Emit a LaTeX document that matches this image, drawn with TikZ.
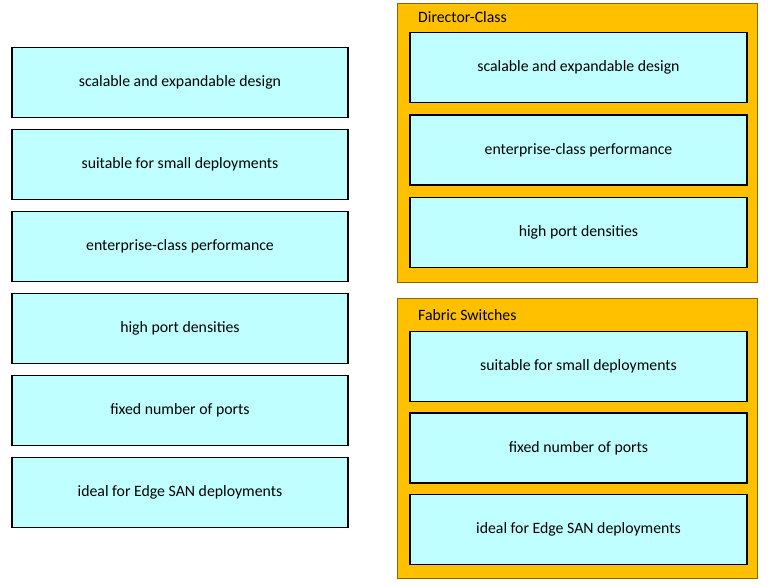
\documentclass[tikz,border=0pt]{standalone}
\usepackage{fontspec}
\setmainfont{Carlito}
\usetikzlibrary{positioning}
\definecolor{boxcyan}{RGB}{192,255,255}
\definecolor{panelorange}{RGB}{255,192,0}
\definecolor{paneledge}{RGB}{140,100,0}
\tikzstyle{answerbox}=[rectangle,draw=black,line width=1.2pt,fill=boxcyan,
minimum width=336pt,minimum height=70pt,inner sep=0pt,
font=\fontsize{15.8}{18}\selectfont]
\tikzstyle{panelbox}=[rectangle,draw=paneledge,line width=1pt,
fill=panelorange,anchor=north west,minimum width=360pt]
\tikzstyle{titlebox}=[anchor=west,inner sep=0pt,
font=\fontsize{15.8}{18}\selectfont]

\begin{document}
\begin{tikzpicture}[x=1pt,y=-1pt,node distance=10.8pt]
    \useasboundingbox (0,0) rectangle (768,586);

    % left column
    \node[answerbox] (l1) at (180,82.5) {scalable and expandable design};
    \node[answerbox, below=of l1] (l2) {suitable for small deployments};
    \node[answerbox, below=of l2] (l3) {enterprise-class performance};
    \node[answerbox, below=of l3] (l4) {high port densities};
    \node[answerbox, below=of l4] (l5) {fixed number of ports};
    \node[answerbox, below=of l5] (l6) {ideal for Edge SAN deployments};

    % Director-Class
    \node[panelbox, minimum height=279pt] (dir) at (397,3) {};
    \node[titlebox] (dirtitle) at (418,17) {Director-Class};
    \node[answerbox, minimum width=337pt] (d1) at (578.5,67.5) {scalable and expandable design};
    \node[answerbox, minimum width=337pt, below=11.3pt of d1] (d2) {enterprise-class performance};
    \node[answerbox, minimum width=337pt, below=11.3pt of d2] (d3) {high port densities};

    % Fabric Switches
    \node[panelbox, minimum height=280pt] (fab) at (397,298) {};
    \node[titlebox] (fabtitle) at (418,315) {Fabric Switches};
    \node[answerbox, minimum width=337pt] (f1) at (578.5,366.5) {suitable for small deployments};
    \node[answerbox, minimum width=337pt, below=10.3pt of f1] (f2) {fixed number of ports};
    \node[answerbox, minimum width=337pt, below=10.3pt of f2] (f3) {ideal for Edge SAN deployments};
\end{tikzpicture}
\end{document}
